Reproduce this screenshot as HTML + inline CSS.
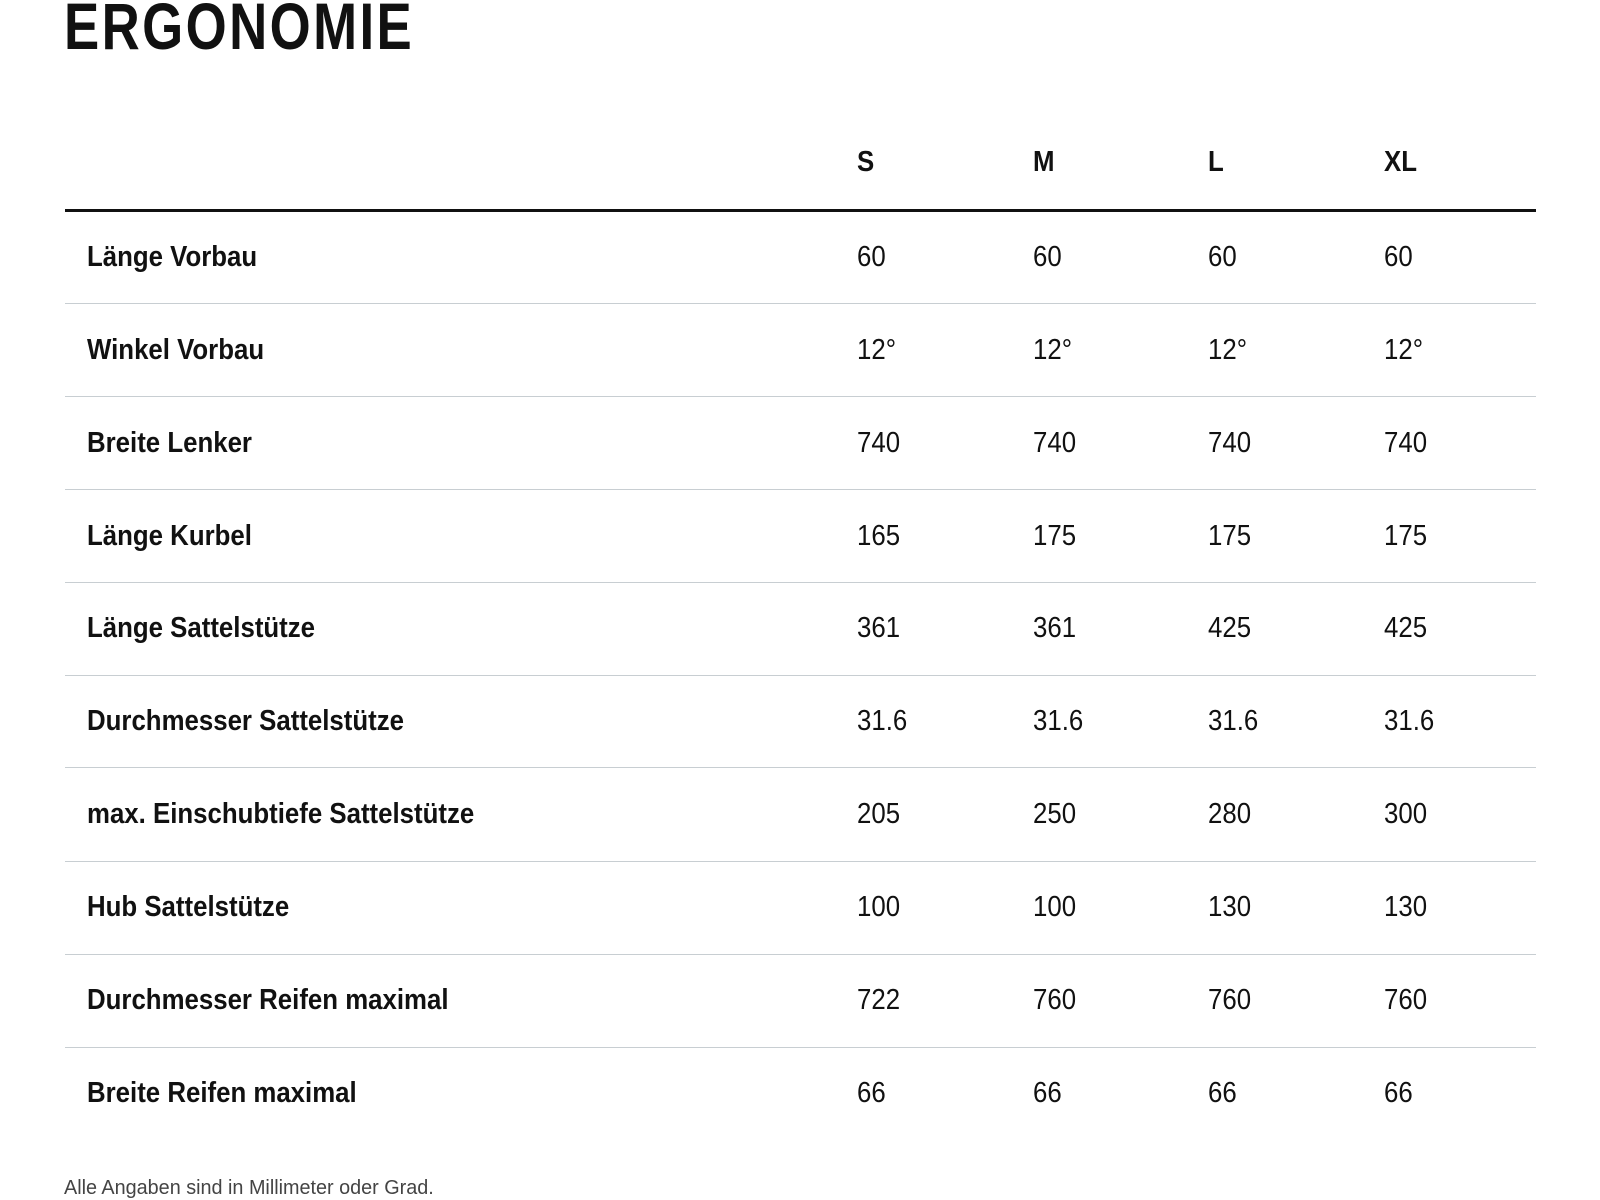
<!DOCTYPE html>
<html><head><meta charset="utf-8"><style>
html,body{margin:0;padding:0;background:#fff;width:1600px;height:1200px;overflow:hidden;}
body{font-family:"Liberation Sans",sans-serif;color:#111;position:relative;}
.h{position:absolute;left:64px;top:-14px;font-size:66px;font-weight:bold;letter-spacing:3px;line-height:80px;transform:scaleX(0.8);transform-origin:left;}
.t{position:absolute;white-space:nowrap;font-size:29px;line-height:30px;transform:scaleX(0.89);transform-origin:left;}
.b{font-weight:bold;}
.line{position:absolute;left:65px;width:1471px;height:1px;background:#c8ced2;}
.foot{position:absolute;left:64px;top:1177px;font-size:20px;color:#444;transform:scaleX(0.99);transform-origin:left;white-space:nowrap;}
</style></head><body>
<div class="h">ERGONOMIE</div>
<div class="t b" style="left:857px;top:147px">S</div>
<div class="t b" style="left:1033px;top:147px">M</div>
<div class="t b" style="left:1208px;top:147px">L</div>
<div class="t b" style="left:1384px;top:147px">XL</div>
<div style="position:absolute;left:65px;top:209px;width:1471px;height:3px;background:#111"></div>
<div class="t b" style="left:87px;top:242px">Länge Vorbau</div>
<div class="t" style="left:857px;top:242px">60</div><div class="t" style="left:1033px;top:242px">60</div><div class="t" style="left:1208px;top:242px">60</div><div class="t" style="left:1384px;top:242px">60</div>
<div class="line" style="top:303px"></div>
<div class="t b" style="left:87px;top:335px">Winkel Vorbau</div>
<div class="t" style="left:857px;top:335px">12°</div><div class="t" style="left:1033px;top:335px">12°</div><div class="t" style="left:1208px;top:335px">12°</div><div class="t" style="left:1384px;top:335px">12°</div>
<div class="line" style="top:396px"></div>
<div class="t b" style="left:87px;top:428px">Breite Lenker</div>
<div class="t" style="left:857px;top:428px">740</div><div class="t" style="left:1033px;top:428px">740</div><div class="t" style="left:1208px;top:428px">740</div><div class="t" style="left:1384px;top:428px">740</div>
<div class="line" style="top:489px"></div>
<div class="t b" style="left:87px;top:521px">Länge Kurbel</div>
<div class="t" style="left:857px;top:521px">165</div><div class="t" style="left:1033px;top:521px">175</div><div class="t" style="left:1208px;top:521px">175</div><div class="t" style="left:1384px;top:521px">175</div>
<div class="line" style="top:582px"></div>
<div class="t b" style="left:87px;top:613px">Länge Sattelstütze</div>
<div class="t" style="left:857px;top:613px">361</div><div class="t" style="left:1033px;top:613px">361</div><div class="t" style="left:1208px;top:613px">425</div><div class="t" style="left:1384px;top:613px">425</div>
<div class="line" style="top:675px"></div>
<div class="t b" style="left:87px;top:706px">Durchmesser Sattelstütze</div>
<div class="t" style="left:857px;top:706px">31.6</div><div class="t" style="left:1033px;top:706px">31.6</div><div class="t" style="left:1208px;top:706px">31.6</div><div class="t" style="left:1384px;top:706px">31.6</div>
<div class="line" style="top:767px"></div>
<div class="t b" style="left:87px;top:799px">max. Einschubtiefe Sattelstütze</div>
<div class="t" style="left:857px;top:799px">205</div><div class="t" style="left:1033px;top:799px">250</div><div class="t" style="left:1208px;top:799px">280</div><div class="t" style="left:1384px;top:799px">300</div>
<div class="line" style="top:861px"></div>
<div class="t b" style="left:87px;top:892px">Hub Sattelstütze</div>
<div class="t" style="left:857px;top:892px">100</div><div class="t" style="left:1033px;top:892px">100</div><div class="t" style="left:1208px;top:892px">130</div><div class="t" style="left:1384px;top:892px">130</div>
<div class="line" style="top:954px"></div>
<div class="t b" style="left:87px;top:985px">Durchmesser Reifen maximal</div>
<div class="t" style="left:857px;top:985px">722</div><div class="t" style="left:1033px;top:985px">760</div><div class="t" style="left:1208px;top:985px">760</div><div class="t" style="left:1384px;top:985px">760</div>
<div class="line" style="top:1047px"></div>
<div class="t b" style="left:87px;top:1078px">Breite Reifen maximal</div>
<div class="t" style="left:857px;top:1078px">66</div><div class="t" style="left:1033px;top:1078px">66</div><div class="t" style="left:1208px;top:1078px">66</div><div class="t" style="left:1384px;top:1078px">66</div>
<div class="foot">Alle Angaben sind in Millimeter oder Grad.</div>
</body></html>
